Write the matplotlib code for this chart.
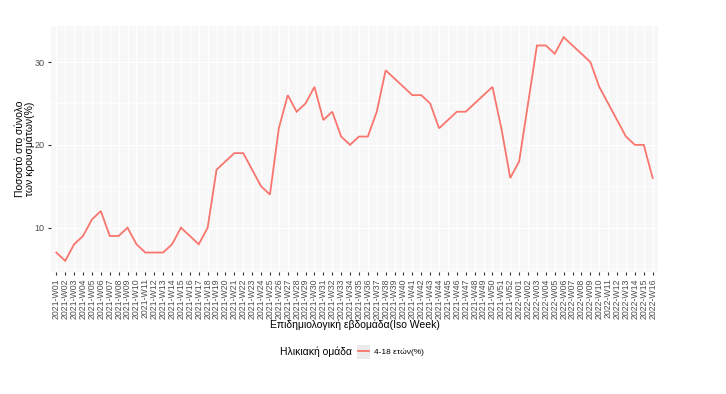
import matplotlib
matplotlib.use("Agg")
import matplotlib.pyplot as plt
from matplotlib.lines import Line2D
from matplotlib.patches import Rectangle

plt.rcParams['font.family'] = ['Liberation Sans', 'DejaVu Sans']

weeks = ["2021-W%02d" % i for i in range(1, 53)] + ["2022-W%02d" % i for i in range(1, 17)]
pct_4_18 = [7, 6, 8, 9, 11, 12, 9, 9, 10, 8, 7, 7, 7, 8, 10, 9, 8, 10, 17, 18,
            19, 19, 17, 15, 14, 22, 26, 24, 25, 27, 23, 24, 21, 20, 21, 21, 24, 29, 28, 27,
            26, 26, 25, 22, 23, 24, 24, 25, 26, 27, 22, 16,
            18, 25, 32, 32, 31, 33, 32, 31, 30, 27, 25, 23, 21, 20, 20, 16]
series_label = "4-18 ετών(%)"
red = "#F8766D"

fig = plt.figure(figsize=(7.26, 3.94), dpi=100)
ax = fig.add_axes((51/726, 1 - 272/394, 607/726, 246/394))
ax.set_facecolor("#F7F7F7")

x = list(range(len(weeks)))
ax.plot(x, pct_4_18, color=red, lw=1.3, solid_joinstyle='miter', zorder=3)

ax.set_xlim(-0.6, len(weeks) - 0.4)
ax.set_ylim(4.65, 34.35)
ax.set_xticks(x)
ax.set_xticklabels(weeks, rotation=90, fontsize=6.3, color="#4D4D4D")
ax.set_yticks([10, 20, 30])
ax.set_yticks([5, 15, 25], minor=True)
ax.tick_params(axis='y', labelsize=6.5, labelcolor="#4D4D4D", length=2.5, width=0.8, color="#333333", pad=2)
ax.tick_params(axis='y', which='minor', length=0)
ax.tick_params(axis='x', length=2.5, width=0.8, color="#333333", pad=2)

ax.grid(True, which='major', color='white', lw=0.9)
ax.grid(True, which='minor', axis='y', color='white', lw=0.5)
ax.set_axisbelow(True)
for s in ax.spines.values():
    s.set_visible(False)

ax.set_xlabel("Επιδημιολογική εβδομάδα(Iso Week)", fontsize=7.5, labelpad=0)
ax.set_ylabel("Ποσοστό στο σύνολο\nτων κρουσμάτων(%)", fontsize=7.5, labelpad=0, linespacing=0.95)

# legend
fig.text(352/726, 1 - 352/394, "Ηλικιακή ομάδα", fontsize=7.5, ha='right', va='center')
fig.patches.append(Rectangle((357/726, 1 - 359/394), 13/726, 14/394,
                             transform=fig.transFigure, facecolor="#EBEBEB", edgecolor='none'))
handle = Line2D([], [], color=red, lw=1.3)
fig.legend([handle], [series_label], loc='center left', bbox_to_anchor=(358/726, 1 - 352/394),
           frameon=False, fontsize=6, handlelength=1.35, handletextpad=0.6, borderpad=0, borderaxespad=0)

fig.savefig("out.png", dpi=100)
